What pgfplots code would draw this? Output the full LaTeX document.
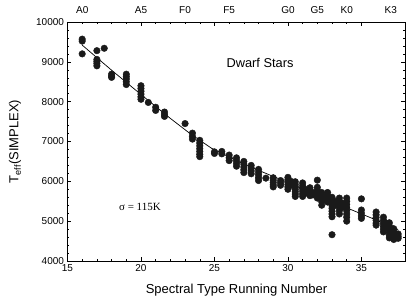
\documentclass[border=0pt]{standalone}
\usepackage{fontspec}
\setmainfont{Liberation Sans}
\newfontfamily\seriffont{Liberation Serif}
\usepackage{pgfplots}
\pgfplotsset{compat=1.18}
\definecolor{dotc}{HTML}{1A1A1A}
\begin{document}
\begin{tikzpicture}
\useasboundingbox (0pt,0pt) rectangle (408pt,300pt);
\begin{axis}[
  at={(67.5pt,39pt)}, anchor=south west,
  width=338pt, height=239pt, scale only axis,
  xmin=15, xmax=38, ymin=4000, ymax=10000,
  scaled y ticks=false, scaled x ticks=false,
  xtick={15,20,25,30,35}, minor x tick num=4,
  ytick={4000,5000,6000,7000,8000,9000,10000}, minor y tick num=4,
  tick align=inside, tick pos=both,
  major tick length=4pt, minor tick length=2pt,
  every tick/.style={black, line width=0.5pt},
  axis line style={black, line width=0.6pt},
  /pgf/number format/.cd, set thousands separator={}, assume math mode=true,
  /pgfplots/.cd,
  tick label style={font=\fontsize{10}{12}\selectfont},
  xlabel={Spectral Type Running Number},
  ylabel={T\textsubscript{eff}(SIMPLEX)},
  label style={font=\fontsize{13}{15}\selectfont},
  xlabel style={at={(axis description cs:0.5,-0.1213)}, anchor=center},
  ylabel style={at={(axis description cs:-0.1553,0.5)}, anchor=center},
  clip=false,
]
\addplot[only marks, mark=*, mark size=3.3pt, color=dotc] coordinates {
(16,9570) (16,9520) (16,9200)
(17,9280) (17,9060) (17,9010) (17,8960) (17,8900)
(17.5,9340)
(18,8690) (18,8640) (18,8610)
(19,8690) (19,8630) (19,8570) (19,8500) (19,8430)
(20,8400) (20,8330) (20,8260) (20,8190) (20,8120) (20,8060)
(20.5,7980)
(21,7860) (21,7780)
(21.6,7740) (21.6,7680) (21.6,7630)
(23,7450)
(23.5,7210) (23.5,7130) (23.5,7060)
(24,7030) (24,6960) (24,6890) (24,6820) (24,6750) (24,6680) (24,6620)
(25,6740) (25,6700)
(25.5,6750) (25.5,6690)
(26,6660) (26,6590) (26,6520)
(26.5,6590) (26.5,6520) (26.5,6450) (26.5,6380)
(27,6500) (27,6430) (27,6360) (27,6290) (27,6220)
(27.5,6400) (27.5,6330) (27.5,6260) (27.5,6190)
(28,6300) (28,6230) (28,6160) (28,6090) (28,6020)
(28.5,6080)
(29,6090) (29,6030) (29,5970) (29,5910) (29,5860)
(29.5,6020) (29.5,5960) (29.5,5900)
(30,6100) (30,6040) (30,5980) (30,5920) (30,5860) (30,5800)
(30.2,6000) (30.2,5900)
(30.5,5990) (30.5,5920) (30.5,5860) (30.5,5800) (30.5,5740) (30.5,5680) (30.5,5620)
(31,5960) (31,5890) (31,5820) (31,5750) (31,5680) (31,5620)
(31.2,5800) (31.2,5700)
(31.5,5840) (31.5,5760) (31.5,5680) (31.5,5640)
(31.7,5720) (31.7,5660)
(32,6030) (32,5850) (32,5780) (32,5710) (32,5640) (32,5580)
(32.3,5720) (32.3,5640) (32.3,5560) (32.3,5490) (32.3,5400)
(32.5,5620) (32.5,5540)
(32.7,5720) (32.7,5640) (32.7,5560) (32.7,5480)
(33,5600) (33,5530) (33,5460) (33,5390) (33,5320) (33,5250) (33,5180) (33,5110) (33,4660)
(33.2,5500) (33.2,5400)
(33.5,5580) (33.5,5500) (33.5,5420) (33.5,5340) (33.5,5260) (33.5,5180)
(33.7,5450) (33.7,5350)
(34,5580) (34,5500) (34,5420) (34,5340) (34,5260) (34,5180) (34,5100) (34,5000)
(35,5560) (35,5280) (35,5200) (35,5130) (35,5070)
(36,5230) (36,5160) (36,5090) (36,5020) (36,4950) (36,4900)
(36.5,5100) (36.5,5020) (36.5,4940) (36.5,4870) (36.5,4800) (36.5,4730)
(36.7,4950) (36.7,4850)
(36.9,4960) (36.9,4880) (36.9,4800) (36.9,4720) (36.9,4650) (36.9,4580)
(37.2,4810) (37.2,4740) (37.2,4670) (37.2,4600) (37.2,4540)
(37.5,4680) (37.5,4620) (37.5,4570)
};
\addplot[black, line width=0.7pt, mark=none] coordinates {
(16,9420) (18,8790) (20,8180) (22,7580) (23.3,7210) (24.8,6830)
(27,6430) (30,5970) (32,5650) (34.1,5320) (36,5030) (37.5,4780)
};
\node[font=\seriffont\fontsize{11}{13}\selectfont] at (axis cs:19.93,5355) {σ = 115K};
\node[font=\fontsize{12.8}{15}\selectfont] at (axis cs:28.1,8978) {Dwarf Stars};
\end{axis}
\begin{axis}[
  at={(67.5pt,39pt)}, anchor=south west,
  width=338pt, height=239pt, scale only axis,
  xmin=15, xmax=38, ymin=0, ymax=1,
  scaled x ticks=false, scaled y ticks=false,
  axis x line*=top, axis y line=none,
  xtick={16,20,23,26,30,32,34,37},
  xticklabels={A0,A5,F0,F5,G0,G5,K0,K3},
  major tick length=0pt,
  axis line style={draw=none},
  xticklabel style={font=\fontsize{10}{12}\selectfont, yshift=5pt},
]
\addplot[draw=none] coordinates {(16,0.5)};
\end{axis}
\end{tikzpicture}
\end{document}
